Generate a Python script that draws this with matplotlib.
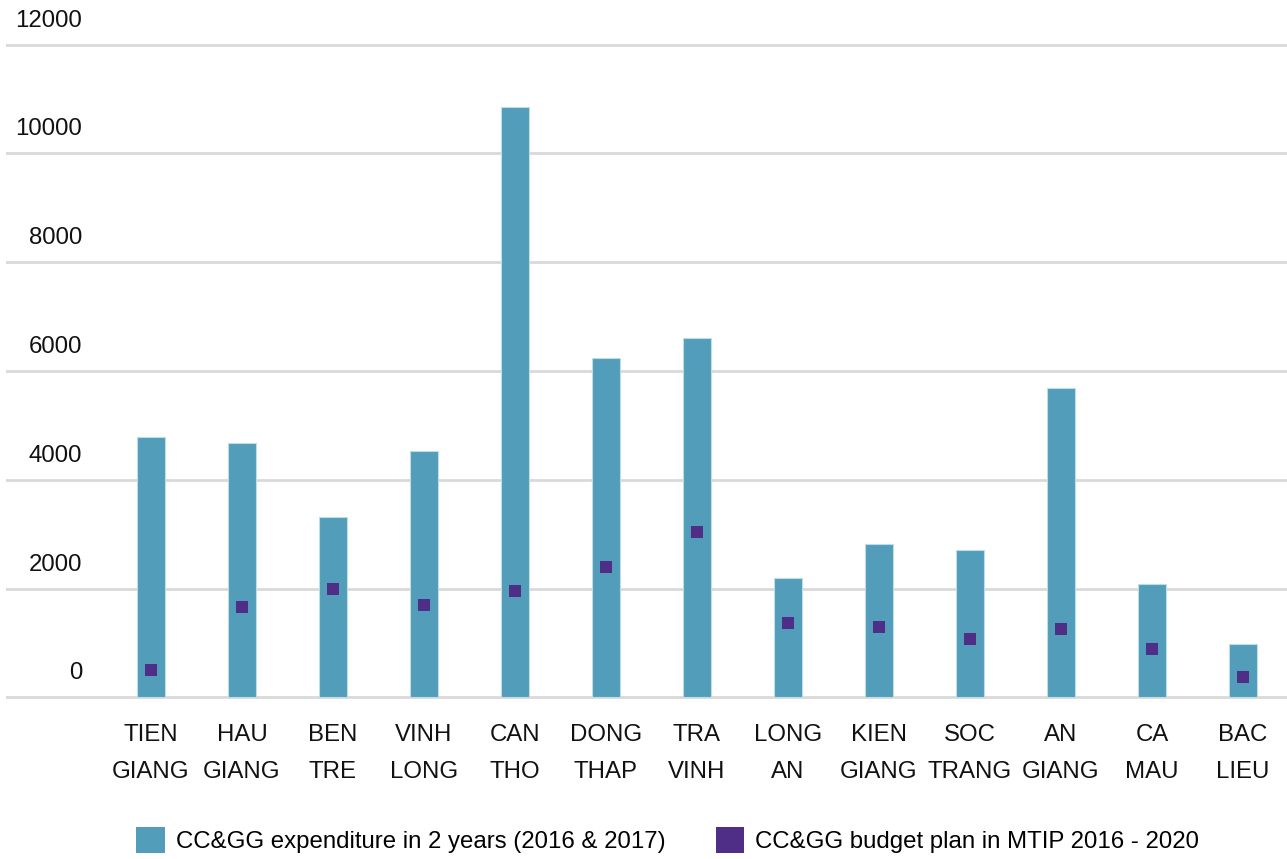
import matplotlib
matplotlib.use("Agg")
import matplotlib.pyplot as plt
import matplotlib.transforms as mtransforms
from matplotlib.patches import Patch

plt.rcParams['font.family'] = ['Liberation Sans', 'DejaVu Sans']

provinces = ["TIEN\nGIANG", "HAU\nGIANG", "BEN\nTRE", "VINH\nLONG", "CAN\nTHO",
             "DONG\nTHAP", "TRA\nVINH", "LONG\nAN", "KIEN\nGIANG", "SOC\nTRANG",
             "AN\nGIANG", "CA\nMAU", "BAC\nLIEU"]
expenditure = [4780, 4670, 3325, 4525, 10850, 6235, 6600, 2200, 2820, 2710, 5690, 2075, 990]
budget_plan = [500, 1660, 1990, 1700, 1960, 2395, 3035, 1370, 1295, 1075, 1255, 880, 380]
y_ticks = [0, 2000, 4000, 6000, 8000, 10000, 12000]

legend_labels = ["CC&GG expenditure in 2 years (2016 & 2017)",
                 "CC&GG budget plan in MTIP 2016 - 2020"]

bar_color = "#529DBA"
marker_color = "#4F2E87"
grid_color = "#D9D9D9"
fs = 17.3

fig = plt.figure(figsize=(12.87, 8.59), dpi=100)
ax = fig.add_axes([6 / 1287, 0.1755, 1281 / 1287, 0.7852])

x = list(range(len(provinces)))
ax.bar(x, expenditure, width=0.31, color=bar_color, edgecolor="#BFDCE8",
       linewidth=0.8, zorder=2)
ax.plot(x, budget_plan, linestyle="none", marker="s", markersize=8.6,
        color=marker_color, markeredgewidth=0, zorder=3)

ax.set_xlim(-1.593, 12.484)
ax.set_ylim(-200, 12200)

for v in y_ticks:
    ax.axhline(v, color=grid_color, linewidth=2, zorder=1)

# y labels sit above their grid lines, right-aligned near the left edge
lab_tr = mtransforms.blended_transform_factory(ax.transAxes, ax.transData) + \
    mtransforms.ScaledTranslation(0, 24 / 100, fig.dpi_scale_trans)
for v in y_ticks:
    ax.text(76 / 1281, v, str(v), transform=lab_tr, ha="right", va="center",
            fontsize=fs, color="#111111")

ax.set_yticks([])
ax.set_xticks(x)
ax.set_xticklabels(provinces, fontsize=fs, linespacing=1.93, color="#111111")
ax.tick_params(axis="x", length=0, pad=11)
for s in ax.spines.values():
    s.set_visible(False)

handles = [Patch(facecolor=bar_color, edgecolor="none"),
           Patch(facecolor=marker_color, edgecolor="none")]
fig.legend(handles, legend_labels, loc="center", bbox_to_anchor=(0.5187, 0.022),
           ncol=2, frameon=False, fontsize=fs, handlelength=1.2, handleheight=1.3,
           handletextpad=0.45, columnspacing=2.1, borderaxespad=0, borderpad=0)

fig.savefig("out.png", dpi=100, facecolor="white")
